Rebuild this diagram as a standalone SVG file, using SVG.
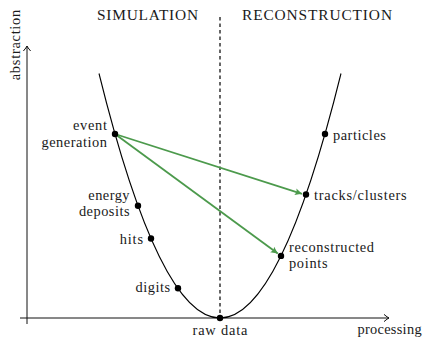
<svg xmlns="http://www.w3.org/2000/svg" width="423" height="338" viewBox="0 0 423 338">
<defs>
<style>
text{font-family:'Liberation Serif',serif;font-size:14.4px;fill:#1a1a1a;}
.head{font-size:15.4px;}
.axis{stroke:#111;stroke-width:1;fill:none;}
.curve{stroke:#000;stroke-width:1.1;fill:none;}
.dash{stroke:#000;stroke-width:1.2;stroke-dasharray:3.5 3;fill:none;}
.green{stroke:#4c9a4c;stroke-width:1.8;fill:none;}
.dot{fill:#000;}
</style>
<marker id="ax" viewBox="-6 -5 8 10" refX="0" refY="0" markerWidth="8" markerHeight="10" markerUnits="userSpaceOnUse" orient="auto">
<path d="M-5,-3.6 Q-1.5,-0.6 0,0 Q-1.5,0.6 -5,3.6" fill="none" stroke="#111" stroke-width="1"/>
</marker>
<marker id="gr" viewBox="-8 -5 10 10" refX="0" refY="0" markerWidth="10" markerHeight="10" markerUnits="userSpaceOnUse" orient="auto">
<path d="M-7,-3.4 L0,0 L-7,3.4 L-5.5,0 Z" fill="#4c9a4c"/>
</marker>
</defs>

<g id="axes">
<line class="axis" x1="20" y1="318" x2="389" y2="318" marker-end="url(#ax)"/>
<line class="axis" x1="27" y1="324" x2="27" y2="46" marker-end="url(#ax)"/>
<text x="389.5" y="333.5" text-anchor="middle" textLength="64.2">processing</text>
<text transform="translate(19.5,45) rotate(-90)" text-anchor="middle" textLength="70.5">abstraction</text>
</g>

<g id="headings">
<text class="head" x="147.5" y="19.5" text-anchor="middle" textLength="101">SIMULATION</text>
<text class="head" x="317" y="19.5" text-anchor="middle" textLength="150">RECONSTRUCTION</text>
</g>

<g id="divider">
<line class="dash" x1="220" y1="17" x2="220" y2="318"/>
</g>

<g id="curve">
<path class="curve" d="M99,73.5 Q220,562.5 341,73.5"/>
</g>

<g id="connectors">
<line class="green" x1="115" y1="134" x2="302" y2="193.8" marker-end="url(#gr)"/>
<line class="green" x1="115" y1="134" x2="277.8" y2="253.6" marker-end="url(#gr)"/>
</g>

<g id="event-generation">
<circle class="dot" cx="115" cy="134" r="3.2"/>
<text x="107" y="129.5" text-anchor="end" textLength="34">event</text>
<text x="107" y="146.5" text-anchor="end" textLength="65.6">generation</text>
</g>

<g id="energy-deposits">
<circle class="dot" cx="138" cy="205.7" r="3.2"/>
<text x="129.5" y="199.5" text-anchor="end" textLength="41.2">energy</text>
<text x="129.5" y="216" text-anchor="end" textLength="50.6">deposits</text>
</g>

<g id="hits">
<circle class="dot" cx="151" cy="238.5" r="3.2"/>
<text x="143" y="243.5" text-anchor="end" textLength="23.3">hits</text>
</g>

<g id="digits">
<circle class="dot" cx="178" cy="288.3" r="3.2"/>
<text x="170" y="292" text-anchor="end" textLength="34.5">digits</text>
</g>

<g id="raw-data">
<circle class="dot" cx="220" cy="318" r="3.2"/>
<text x="220" y="335" text-anchor="middle" textLength="55">raw data</text>
</g>

<g id="particles">
<circle class="dot" cx="325" cy="134" r="3.2"/>
<text x="333" y="139.5" textLength="52.9">particles</text>
</g>

<g id="tracks-clusters">
<circle class="dot" cx="306" cy="194.5" r="3.2"/>
<text x="314" y="200" textLength="92.7">tracks/clusters</text>
</g>

<g id="reconstructed-points">
<circle class="dot" cx="281" cy="255.9" r="3.2"/>
<text x="289" y="251.5" textLength="85">reconstructed</text>
<text x="289" y="268" textLength="38.5">points</text>
</g>
</svg>
